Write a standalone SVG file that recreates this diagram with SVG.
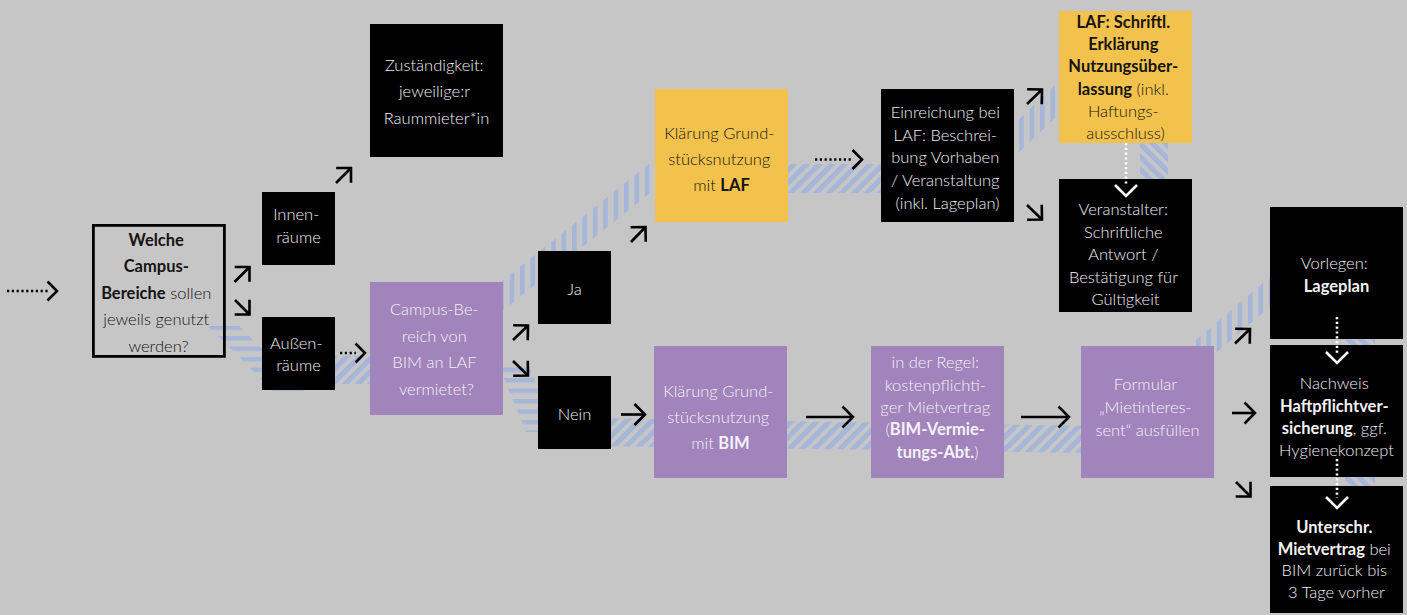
<svg xmlns="http://www.w3.org/2000/svg" width="1407" height="615" viewBox="0 0 1407 615">
  <defs>
    <style>
      .t{font-family:Lato,"Open Sans","Liberation Sans",sans-serif;font-size:16.5px;font-weight:300;text-anchor:middle}
      .b{font-weight:700}
      .ink-dark{fill:#f2f2f2}
      .ink-purple{fill:#f6f1fa}
      .ink-light{fill:#141414}
      .box-black{fill:#000}
      .box-purple{fill:#a084bb}
      .box-yellow{fill:#f3c24c}
      .box-outline{fill:none;stroke:#000;stroke-width:2.8}
      .arrow{fill:none;stroke:#000;stroke-width:2.6;marker-end:url(#head)}
      .dots{fill:none;stroke:#000;stroke-width:2.6;stroke-dasharray:2.2 2.6;marker-end:url(#headD)}
      .dots-w{fill:none;stroke:#fff;stroke-width:2.6;stroke-dasharray:2.2 2.6;marker-end:url(#headW)}
    </style>
    <!-- open chevron heads -->
    <marker id="head" markerUnits="userSpaceOnUse" markerWidth="30" markerHeight="30" refX="15" refY="15" orient="auto" overflow="visible">
      <path d="M4.5,4.5 L15,15 L4.5,25.5" fill="none" stroke="#000" stroke-width="2.6"/>
    </marker>
    <marker id="headD" markerUnits="userSpaceOnUse" markerWidth="30" markerHeight="30" refX="5" refY="15" orient="auto" overflow="visible">
      <path d="M4.5,5.5 L14,15 L4.5,24.5" fill="none" stroke="#000" stroke-width="2.6"/>
    </marker>
    <marker id="headW" markerUnits="userSpaceOnUse" markerWidth="30" markerHeight="30" refX="5" refY="15" orient="auto" overflow="visible">
      <path d="M4,4 L15,15 L4,26" fill="none" stroke="#fff" stroke-width="2.6"/>
    </marker>
    <!-- hatch fills for the route band -->
    <pattern id="hV" patternUnits="userSpaceOnUse" width="10.4" height="40">
      <rect width="4.6" height="40" fill="#a5b6d9"/>
    </pattern>
    <pattern id="hH" patternUnits="userSpaceOnUse" width="40" height="10.5">
      <rect width="40" height="4.4" fill="#a5b6d9"/>
    </pattern>
    <pattern id="hD" patternUnits="userSpaceOnUse" width="9" height="40" patternTransform="rotate(45)">
      <rect width="5" height="40" fill="#a5b6d9"/>
    </pattern>
    <pattern id="hB" patternUnits="userSpaceOnUse" width="9" height="40" patternTransform="rotate(-45)">
      <rect width="5" height="40" fill="#a5b6d9"/>
    </pattern>
  </defs>

  <rect width="1407" height="615" fill="#c6c6c6"/>

  <!-- hatched route band behind the boxes -->
  <g id="route-band">
    <polygon points="208,326 239,326 304,391 273,391" fill="url(#hH)"/>
    <rect x="300" y="356" width="80" height="28" fill="url(#hD)"/>
    <polygon points="480,299 700,123 700,153 480,329" fill="url(#hV)"/>
    <rect x="760" y="164" width="140" height="29" fill="url(#hD)"/>
    <polygon points="990,147 1080,61 1080,94 990,180" fill="url(#hV)"/>
    <rect x="1140" y="130" width="28" height="60" fill="url(#hB)"/>
    <polygon points="498,364 528,364 556,432 526,432" fill="url(#hH)"/>
    <polygon points="595,418 1095,426 1095,453 595,446" fill="url(#hD)"/>
    <polygon points="1190,345 1290,260 1290,290 1190,375" fill="url(#hV)"/>
    <rect x="1345" y="330" width="30" height="165" fill="url(#hB)"/>
  </g>

  <!-- connectors -->
  <g id="connectors">
    <path class="dots" d="M7,291 H48"/>
    <path class="arrow" d="M234.5,282 L249.5,267"/>
    <path class="arrow" d="M235,300 L249.5,314.5"/>
    <path class="arrow" d="M336,183 L351,168"/>
    <path class="dots" d="M340,353 H356"/>
    <path class="arrow" d="M513,340 L528,325.5"/>
    <path class="arrow" d="M513,361 L528,375.5"/>
    <path class="arrow" d="M631,242 L645.5,227"/>
    <path class="arrow" d="M621,414.5 H645"/>
    <path class="dots" d="M815,159.5 H853"/>
    <path class="arrow" d="M806,417 H853"/>
    <path class="arrow" d="M1021,417 H1069"/>
    <path class="arrow" d="M1027,104 L1042,89.5"/>
    <path class="arrow" d="M1027,205 L1042,219.5"/>
    <path class="arrow" d="M1235,343.5 L1250,329"/>
    <path class="arrow" d="M1232,413 H1255"/>
    <path class="arrow" d="M1236,482 L1250.5,496.5"/>
  </g>

  <g id="welche-bereiche">
    <rect class="box-outline" x="93.4" y="225.4" width="131" height="131"/>
    <text class="t ink-light">
      <tspan class="b" x="158.5" y="245.5">Welche</tspan>
      <tspan class="b" x="158.5" y="272">Campus-</tspan>
      <tspan x="158.5" y="298.5"><tspan class="b">Bereiche</tspan> sollen</tspan>
      <tspan x="158.5" y="325">jeweils genutzt</tspan>
      <tspan x="158.5" y="351.5">werden?</tspan>
    </text>
  </g>

  <g id="innenraeume">
    <rect class="box-black" x="262" y="192" width="73" height="73"/>
    <text class="t ink-dark">
      <tspan x="298.5" y="220">Innen-</tspan>
      <tspan x="298.5" y="243">räume</tspan>
    </text>
  </g>

  <g id="aussenraeume">
    <rect class="box-black" x="262" y="317" width="73" height="73"/>
    <text class="t ink-dark">
      <tspan x="298.5" y="349">Außen-</tspan>
      <tspan x="298.5" y="371">räume</tspan>
    </text>
  </g>

  <g id="zustaendigkeit">
    <rect class="box-black" x="370" y="24" width="133" height="133"/>
    <text class="t ink-dark">
      <tspan x="436.5" y="70.5">Zuständigkeit:</tspan>
      <tspan x="436.5" y="97">jeweilige:r</tspan>
      <tspan x="436.5" y="123.5">Raummieter*in</tspan>
    </text>
  </g>

  <g id="campus-vermietet">
    <rect class="box-purple" x="370" y="282" width="133" height="133"/>
    <text class="t ink-purple">
      <tspan x="436.5" y="315">Campus-Be-</tspan>
      <tspan x="436.5" y="341.5">reich von</tspan>
      <tspan x="436.5" y="368">BIM an LAF</tspan>
      <tspan x="436.5" y="394.5">vermietet?</tspan>
    </text>
  </g>

  <g id="ja">
    <rect class="box-black" x="538" y="251" width="73" height="73"/>
    <text class="t ink-dark" x="574.5" y="295">Ja</text>
  </g>

  <g id="nein">
    <rect class="box-black" x="538" y="376" width="73" height="73"/>
    <text class="t ink-dark" x="574.5" y="419.5">Nein</text>
  </g>

  <g id="klaerung-laf">
    <rect class="box-yellow" x="655" y="89" width="133" height="133"/>
    <text class="t ink-light">
      <tspan x="721.5" y="139">Klärung Grund-</tspan>
      <tspan x="721.5" y="165">stücksnutzung</tspan>
      <tspan x="721.5" y="191">mit <tspan class="b">LAF</tspan></tspan>
    </text>
  </g>

  <g id="einreichung-laf">
    <rect class="box-black" x="881" y="89" width="133" height="133"/>
    <text class="t ink-dark">
      <tspan x="947.5" y="118">Einreichung bei</tspan>
      <tspan x="947.5" y="140.7">LAF: Beschrei-</tspan>
      <tspan x="947.5" y="163.4">bung Vorhaben</tspan>
      <tspan x="947.5" y="186">/ Veranstaltung</tspan>
      <tspan x="947.5" y="208.7">(inkl. Lageplan)</tspan>
    </text>
  </g>

  <g id="laf-erklaerung">
    <rect class="box-yellow" x="1059" y="11" width="133" height="132"/>
    <text class="t ink-light">
      <tspan class="b" x="1125.5" y="27.5">LAF: Schriftl.</tspan>
      <tspan class="b" x="1125.5" y="50">Erklärung</tspan>
      <tspan class="b" x="1125.5" y="72">Nutzungsüber-</tspan>
      <tspan x="1125.5" y="94.5"><tspan class="b">lassung</tspan> (inkl.</tspan>
      <tspan x="1125.5" y="117">Haftungs-</tspan>
      <tspan x="1125.5" y="139">ausschluss)</tspan>
    </text>
  </g>

  <g id="veranstalter-antwort">
    <rect class="box-black" x="1059" y="179" width="133" height="133"/>
    <text class="t ink-dark">
      <tspan x="1125.5" y="215">Veranstalter:</tspan>
      <tspan x="1125.5" y="237.5">Schriftliche</tspan>
      <tspan x="1125.5" y="260">Antwort /</tspan>
      <tspan x="1125.5" y="282.5">Bestätigung für</tspan>
      <tspan x="1125.5" y="305">Gültigkeit</tspan>
    </text>
  </g>

  <g id="klaerung-bim">
    <rect class="box-purple" x="654" y="346" width="133" height="132"/>
    <text class="t ink-purple">
      <tspan x="720.5" y="397">Klärung Grund-</tspan>
      <tspan x="720.5" y="423">stücksnutzung</tspan>
      <tspan x="720.5" y="449">mit <tspan class="b">BIM</tspan></tspan>
    </text>
  </g>

  <g id="mietvertrag-regel">
    <rect class="box-purple" x="871" y="346" width="133" height="132"/>
    <text class="t ink-purple">
      <tspan x="937.5" y="368">in der Regel:</tspan>
      <tspan x="937.5" y="390.5">kostenpflichti-</tspan>
      <tspan x="937.5" y="413">ger Mietvertrag</tspan>
      <tspan x="937.5" y="435.3">(<tspan class="b">BIM-Vermie-</tspan></tspan>
      <tspan x="937.5" y="457.5"><tspan class="b">tungs-Abt.</tspan>)</tspan>
    </text>
  </g>

  <g id="formular-mietinteressent">
    <rect class="box-purple" x="1081" y="346" width="133" height="132"/>
    <text class="t ink-purple">
      <tspan x="1147.5" y="390">Formular</tspan>
      <tspan x="1147.5" y="413">„Mietinteres-</tspan>
      <tspan x="1147.5" y="435.5">sent“ ausfüllen</tspan>
    </text>
  </g>

  <g id="vorlegen-lageplan">
    <rect class="box-black" x="1270" y="207" width="133" height="132"/>
    <text class="t ink-dark">
      <tspan x="1336.5" y="269">Vorlegen:</tspan>
      <tspan class="b" x="1336.5" y="291.5">Lageplan</tspan>
    </text>
  </g>

  <g id="nachweis-haftpflicht">
    <rect class="box-black" x="1270" y="345" width="133" height="132"/>
    <text class="t ink-dark">
      <tspan x="1336.5" y="389">Nachweis</tspan>
      <tspan class="b" x="1336.5" y="411.5">Haftpflichtver-</tspan>
      <tspan x="1336.5" y="433.5"><tspan class="b">sicherung</tspan>, ggf.</tspan>
      <tspan x="1336.5" y="456">Hygienekonzept</tspan>
    </text>
  </g>

  <g id="unterschrift-mietvertrag">
    <rect class="box-black" x="1270" y="486" width="133" height="127"/>
    <text class="t ink-dark">
      <tspan class="b" x="1336.5" y="533">Unterschr.</tspan>
      <tspan x="1336.5" y="554.5"><tspan class="b">Mietvertrag</tspan> bei</tspan>
      <tspan x="1336.5" y="576">BIM zurück bis</tspan>
      <tspan x="1336.5" y="597.5">3 Tage vorher</tspan>
    </text>
  </g>

  <!-- white dotted links drawn over the dark boxes -->
  <g id="inner-connectors">
    <path class="dots-w" d="M1126,143 V186"/>
    <path class="dots-w" d="M1337,317 V353"/>
    <path class="dots-w" d="M1337,459 V498"/>
  </g>
</svg>
